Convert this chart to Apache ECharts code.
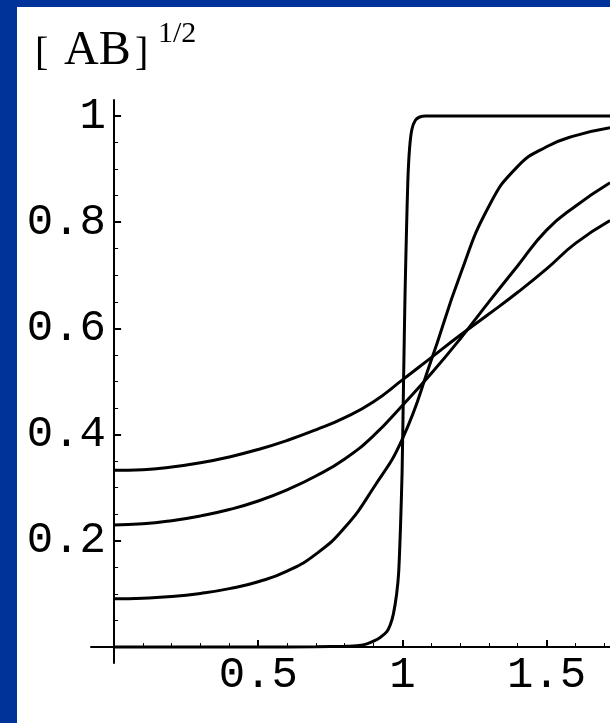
<!DOCTYPE html>
<html>
<head>
<meta charset="utf-8">
<script src="https://cdn.jsdelivr.net/npm/echarts@6.0.0/dist/echarts.min.js"></script>
<style>
  html, body { margin: 0; padding: 0; width: 610px; height: 723px; overflow: hidden; background: #003399; }
  #chart { position: absolute; left: 17px; top: 7px; width: 593px; height: 716px; background: #fff; }
</style>
</head>
<body>
<div id="chart"></div>
<script>
// sample positions for the three smooth curves
var xSamples = [0, 0.1, 0.2, 0.3, 0.4, 0.5, 0.6, 0.7, 0.8, 0.9, 1.0, 1.1, 1.2, 1.3, 1.4, 1.5, 1.6, 1.72];
var curveA = [0.333, 0.334, 0.339, 0.347, 0.358, 0.372, 0.389, 0.409, 0.432, 0.462, 0.503, 0.545, 0.587, 0.627, 0.668, 0.712, 0.760, 0.803];
var curveB = [0.230, 0.232, 0.238, 0.247, 0.259, 0.275, 0.296, 0.322, 0.354, 0.398, 0.455, 0.515, 0.580, 0.650, 0.718, 0.785, 0.830, 0.874];
var curveC = [0.091, 0.092, 0.095, 0.101, 0.110, 0.123, 0.143, 0.175, 0.225, 0.300, 0.392, 0.540, 0.700, 0.830, 0.905, 0.942, 0.963, 0.978];

// the step-like curve needs its own, denser sampling
var stepX = [0, 0.5, 0.7, 0.8, 0.85, 0.877, 0.9, 0.923, 0.946, 0.958, 0.969, 0.98, 0.987, 0.993, 0.999, 1.004, 1.009, 1.014, 1.019, 1.025, 1.033, 1.045, 1.06, 1.08, 1.2, 1.72];
var stepY = [0, 0, 0.0005, 0.0015, 0.003, 0.006, 0.011, 0.018, 0.029, 0.042, 0.063, 0.1, 0.14, 0.22, 0.33, 0.5, 0.66, 0.78, 0.88, 0.94, 0.975, 0.992, 0.998, 1, 1, 1];

var xMajorTicks = [0.5, 1, 1.5];
var xMinorTicks = [0.1, 0.2, 0.3, 0.4, 0.6, 0.7, 0.8, 0.9, 1.1, 1.2, 1.3, 1.4, 1.6, 1.7];
var yMajorTicks = [0.2, 0.4, 0.6, 0.8, 1];
var yMinorTicks = [0.05, 0.1, 0.15, 0.25, 0.3, 0.35, 0.45, 0.5, 0.55, 0.65, 0.7, 0.75, 0.85, 0.9, 0.95];

function pairs(xs, ys) {
    return xs.map(function (x, i) { return [x, ys[i]]; });
}

var chart = echarts.init(document.getElementById('chart'));

var mono = 'Liberation Mono';
var serif = 'Liberation Serif';
var labelFmt = function (v) { return String(+Number(v).toFixed(2)); };

var lineSeries = function (data, smooth) {
    return {
        type: 'line',
        data: data,
        symbol: 'none',
        smooth: smooth,
        animation: false,
        lineStyle: { color: '#000', width: 3 }
    };
};

var option = {
    animation: false,
    title: [{
        text: '[',
        left: 18, top: 27, padding: 0,
        textStyle: { fontFamily: serif, fontSize: 40, fontWeight: 'normal', color: '#000' }
    }, {
        text: 'AB',
        left: 47, top: 20, padding: 0,
        textStyle: { fontFamily: serif, fontSize: 48, fontWeight: 'normal', color: '#000' }
    }, {
        text: ']',
        left: 118, top: 27, padding: 0,
        textStyle: { fontFamily: serif, fontSize: 40, fontWeight: 'normal', color: '#000' }
    }, {
        text: '1/2',
        left: 141, top: 12, padding: 0,
        textStyle: { fontFamily: serif, fontSize: 30, fontWeight: 'normal', color: '#000' }
    }],
    grid: { left: 74, right: 0, top: 93, bottom: 60, containLabel: false, outerBoundsMode: 'none' },
    xAxis: [{
        type: 'value',
        min: -0.08,
        max: 1.72,
        splitLine: { show: false },
        axisLine: { show: true, onZero: true, lineStyle: { color: '#000', width: 2 } },
        axisTick: { show: true, inside: true, length: 7, customValues: xMajorTicks, lineStyle: { color: '#000', width: 2 } },
        axisLabel: {
            show: true, customValues: xMajorTicks, formatter: labelFmt, margin: -10,
            fontFamily: mono, fontSize: 44, lineHeight: 44, color: '#000'
        }
    }, {
        type: 'value',
        position: 'bottom',
        min: -0.08,
        max: 1.72,
        splitLine: { show: false },
        axisLine: { show: false, onZero: true },
        axisTick: { show: true, inside: true, length: 4, customValues: xMinorTicks, lineStyle: { color: '#000', width: 1 } },
        axisLabel: { show: false }
    }],
    yAxis: [{
        type: 'value',
        min: -0.03,
        max: 1.03,
        splitLine: { show: false },
        axisLine: { show: true, onZero: true, lineStyle: { color: '#000', width: 2 } },
        axisTick: { show: true, inside: true, length: 7, customValues: yMajorTicks, lineStyle: { color: '#000', width: 2 } },
        axisLabel: {
            show: true, customValues: yMajorTicks, formatter: labelFmt, margin: -15,
            fontFamily: mono, fontSize: 44, color: '#000'
        }
    }, {
        type: 'value',
        position: 'left',
        min: -0.03,
        max: 1.03,
        splitLine: { show: false },
        axisLine: { show: false, onZero: true },
        axisTick: { show: true, inside: true, length: 4, customValues: yMinorTicks, lineStyle: { color: '#000', width: 1 } },
        axisLabel: { show: false }
    }],
    series: [
        lineSeries(pairs(xSamples, curveA), 0.5),
        lineSeries(pairs(xSamples, curveB), 0.5),
        lineSeries(pairs(xSamples, curveC), 0.5),
        lineSeries(pairs(stepX, stepY), 0.2)
    ]
};

chart.setOption(option);
</script>
</body>
</html>
